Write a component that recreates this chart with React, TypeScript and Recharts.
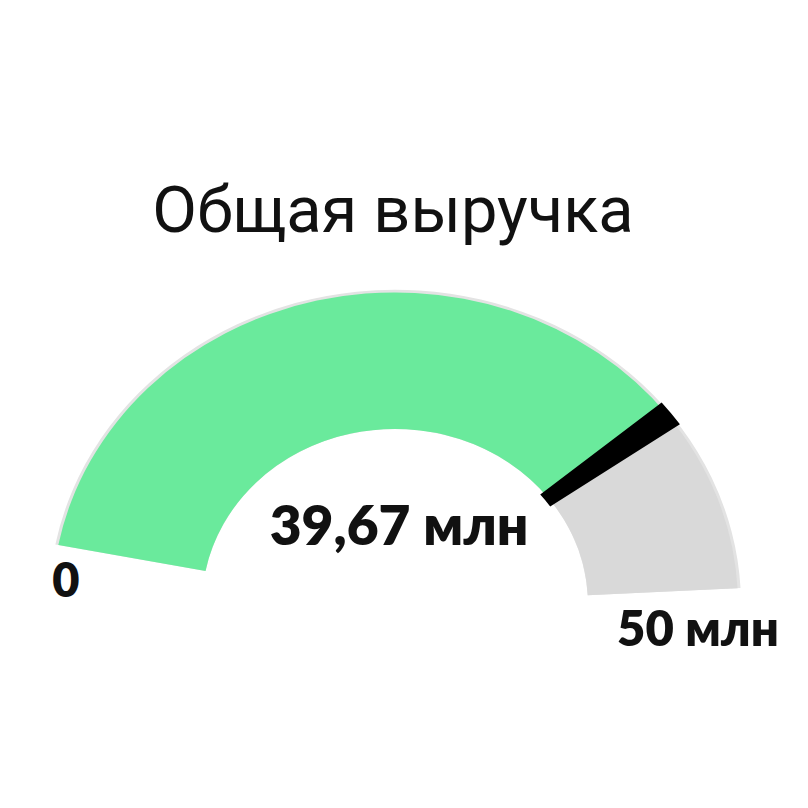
import React from "react";
import { PieChart, Pie, Cell } from "recharts";

const title = "Общая выручка";
const gaugeMin = 0;
const gaugeMax = 50;
const currentValue = 39.67;
const minLabel = "0";
const maxLabel = "50 млн";
const valueLabel = "39,67 млн";

const W = 808;
const H = 808;
const CX = 390;
const CY = 600;
const INNER = 193;
const OUTER = 343;
const START = 169;
const END = 3;
const MARKER_HALF = 0.75;

const GREEN = "#6AEA9C";
const GRAY = "#D9D9D9";

const gaugeData = [
  { name: "value", v: currentValue - gaugeMin },
  { name: "rest", v: gaugeMax - currentValue },
];
const gaugeColors = [GREEN, GRAY];

const markerData = [
  { name: "before", v: currentValue - gaugeMin - MARKER_HALF },
  { name: "marker", v: MARKER_HALF * 2 },
  { name: "after", v: gaugeMax - currentValue - MARKER_HALF },
];
const markerColors = ["transparent", "#000000", "transparent"];

const bgData = [{ name: "bg", v: gaugeMax - gaugeMin }];

export default function App() {
  return (
    <div style={{ position: "relative", width: W, height: H, margin: -8, background: "#fff" }}>
      <div
        style={{
          position: "absolute",
          left: 0,
          top: 0,
          width: W,
          height: H,
          transform: "scaleY(0.91)",
          transformOrigin: `${CX}px ${CY}px`,
        }}
      >
        <PieChart width={W} height={H}>
          <Pie
            data={bgData}
            dataKey="v"
            cx={CX}
            cy={CY}
            innerRadius={INNER}
            outerRadius={OUTER + 3}
            startAngle={START}
            endAngle={END}
            stroke="none"
            fill="#E3E3E3"
            isAnimationActive={false}
          />
          <Pie
            data={gaugeData}
            dataKey="v"
            cx={CX}
            cy={CY}
            innerRadius={INNER}
            outerRadius={OUTER}
            startAngle={START}
            endAngle={END}
            stroke="none"
            isAnimationActive={false}
          >
            {gaugeData.map((d, i) => (
              <Cell key={d.name} fill={gaugeColors[i]} />
            ))}
          </Pie>
          <Pie
            data={markerData}
            dataKey="v"
            cx={CX}
            cy={CY}
            innerRadius={INNER - 4}
            outerRadius={OUTER + 4}
            startAngle={START}
            endAngle={END}
            stroke="none"
            isAnimationActive={false}
          >
            {markerData.map((d, i) => (
              <Cell key={d.name} fill={markerColors[i]} />
            ))}
          </Pie>
        </PieChart>
      </div>
      <svg
        width={W}
        height={H}
        style={{ position: "absolute", left: 0, top: 0, pointerEvents: "none" }}
      >
        <text
          x={393}
          y={232}
          textAnchor="middle"
          fontFamily="Roboto, 'Noto Sans', sans-serif"
          fontSize={65}
          fill="#111"
        >
          {title}
        </text>
        <text
          x={399}
          y={545}
          textAnchor="middle"
          fontFamily="Lato, 'Open Sans', sans-serif"
          fontWeight={800}
          fontSize={55}
          fill="#111"
        >
          {valueLabel}
        </text>
        <text
          x={66}
          y={597}
          textAnchor="middle"
          fontFamily="Lato, 'Open Sans', sans-serif"
          fontWeight={800}
          fontSize={47}
          fill="#111"
        >
          {minLabel}
        </text>
        <text
          x={617}
          y={646}
          textAnchor="start"
          fontFamily="Lato, 'Open Sans', sans-serif"
          fontWeight={800}
          fontSize={49}
          fill="#111"
        >
          {maxLabel}
        </text>
      </svg>
    </div>
  );
}
